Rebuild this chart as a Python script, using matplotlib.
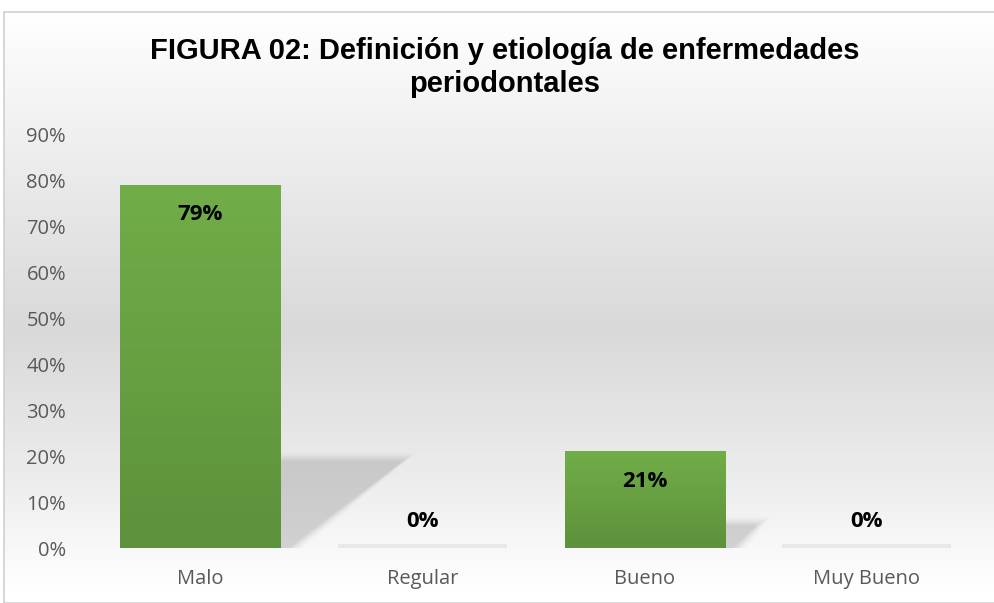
import matplotlib.pyplot as plt
import numpy as np
from matplotlib.colors import LinearSegmentedColormap
from matplotlib.patches import Polygon, Rectangle

categories = ["Malo", "Regular", "Bueno", "Muy Bueno"]
values = [0.79, 0.0, 0.21, 0.0]
labels = ["79%", "0%", "21%", "0%"]
yticks = [0, 0.1, 0.2, 0.3, 0.4, 0.5, 0.6, 0.7, 0.8, 0.9]

title = "FIGURA 02: Definición y etiología de enfermedades\nperiodontales"

fig = plt.figure(figsize=(9.94, 6.03), dpi=100)

# --- chart area background (vertical gray gradient) with thin border ---
bg = fig.add_axes([0, 0, 1, 1], zorder=0)
bg.set_xlim(0, 1)
bg.set_ylim(0, 1)
bg.axis("off")
bg_cmap = LinearSegmentedColormap.from_list(
    "bg", [(0.0, "#ffffff"), (0.35, "#e6e6e6"), (0.55, "#d9d9d9"),
           (0.8, "#ececec"), (1.0, "#ffffff")])
grad = np.linspace(0, 1, 256).reshape(-1, 1)
bg.imshow(grad, cmap=bg_cmap, aspect="auto", extent=[0.004, 1.0, 0.02, 0.98],
          origin="upper", zorder=0)
bg.add_patch(Rectangle((0.004, 0.0), 1.0, 0.98, fill=False,
                       edgecolor="#d0d0d0", linewidth=1.2, zorder=1))

# --- main plot ---
ax = fig.add_axes([89 / 994, 1 - 548 / 603, 889 / 994, 414 / 603], zorder=1)
ax.patch.set_alpha(0)
x = np.arange(len(categories))
width = 0.72
ax.set_xlim(-0.5, len(categories) - 0.5)
ax.set_ylim(0, 0.9)

bar_cmap = LinearSegmentedColormap.from_list("bar", ["#5d913b", "#71ad48"])
bars = ax.bar(x, values, width=width, color="#68a142", zorder=3)

for xi, v, b in zip(x, values, bars):
    right = xi + width / 2
    if v > 0:
        # soft perspective shadow to the right of each bar
        sh = v * 0.24
        reach = v * 0.7
        for k, a in enumerate(np.linspace(0.08, 0.02, 6)):
            off = k * 0.012
            poly = Polygon([(right, 0), (right, sh + off * 0.3),
                            (right + reach + off, sh + off * 0.3),
                            (right + 0.04 + off, 0)],
                           closed=True, facecolor="#707070", edgecolor="none",
                           alpha=a, zorder=2)
            ax.add_patch(poly)
        # vertical gradient fill
        im = ax.imshow(grad, cmap=bar_cmap, aspect="auto", origin="lower",
                       extent=[xi - width / 2, xi + width / 2, 0, v], zorder=3)
        im.set_clip_path(b)
    else:
        ax.add_patch(Rectangle((xi - width / 2 - 0.02, 0.0), width + 0.04, 0.008,
                               facecolor="#cccccc", edgecolor="none", alpha=0.35,
                               zorder=2))

for xi, v, lab in zip(x, values, labels):
    ytxt = v - 0.066 if v > 0 else 0.058
    ax.text(xi, ytxt, lab, ha="center", va="center", fontsize=16,
            fontweight="bold", family="Open Sans", color="black", zorder=4)

ax.set_xlim(-0.5, len(categories) - 0.5)
ax.set_ylim(0, 0.9)
ax.set_xticks(x)
ax.set_xticklabels(categories, family="Open Sans", fontsize=14.5, color="#595959")
ax.set_yticks(yticks)
ax.set_yticklabels([f"{int(round(t * 100))}%" for t in yticks],
                   family="Open Sans", fontsize=14.5, color="#595959")
ax.tick_params(axis="both", length=0)
ax.tick_params(axis="x", pad=15)
ax.tick_params(axis="y", pad=16.5)
for s in ax.spines.values():
    s.set_visible(False)

fig.text(0.508, 0.888, title, ha="center", va="center", fontsize=21,
         fontweight="bold", family="Liberation Sans", color="black",
         linespacing=1.2)

fig.savefig("out.png", dpi=100)
